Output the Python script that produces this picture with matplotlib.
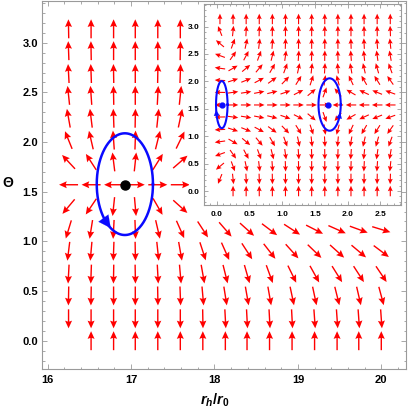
import numpy as np
import matplotlib
matplotlib.use("Agg")
import matplotlib.pyplot as plt
from matplotlib.patches import Rectangle
from matplotlib.ticker import MultipleLocator, FormatStrFormatter

plt.rcParams['font.family'] = ['Liberation Sans', 'DejaVu Sans']
plt.rcParams['mathtext.fontset'] = 'custom'
plt.rcParams['mathtext.it'] = 'Liberation Sans:bold:italic'
plt.rcParams['mathtext.rm'] = 'Liberation Sans:bold'

DPI = 100
nan = np.nan

# ---- main panel data ----
r_main = [16.25, 16.52, 16.79, 17.05, 17.32, 17.59, 17.86, 18.13,
          18.39, 18.66, 18.93, 19.20, 19.47, 19.73, 20.00]
theta = [0.00, 0.22, 0.45, 0.67, 0.90, 1.12, 1.35, 1.57,
         1.80, 2.02, 2.24, 2.47, 2.69, 2.92, 3.14]

# arrow directions in degrees, one row per theta (theta = 0 first)
ang_main = [
    [nan, 90, 90, 90, 90, 90, 90, 90, 90, 90, 90, 90, 90, 90, 90],
    [-90, -90, -90, -90, -90, -90, -89, -87, -87, -87, -87, -86, -86, -86, -86],
    [-91, -91, -90, -90, -89, -88, -85, -81, -80, -80, -78, -78, -76, -77, -75],
    [-93, -92, -91, -89, -87, -85, -80, -76, -74, -70, -64, -61, -58, -57, -56],
    [-97, -95, -92, -89, -84, -80, -72, -66, -57, -52, -48, -44, -42, -40, -37],
    [-107, -99, -93, -88, -77, -66, -57, -49, -42, -37, -33, -27, -24, -20, -17],
    [-130, -124, -96, -85, -60, -42, -32, -25, -20, -16, -13, -11, -9, -8, -7],
    [180, 180, 180, 0, 0, 0, 0, 0, 0, 0, 0, 0, 0, 0, 0],
    [133, 123, 97, 84, 58, 41, 32, 25, 20, 16, 13, 11, 9, 8, 7],
    [112, 103, 94, 88, 76, 64, 57, 49, 42, 37, 33, 27, 24, 20, 17],
    [100, 97, 92, 89, 84, 78, 72, 66, 57, 52, 48, 44, 42, 40, 37],
    [96, 94, 91, 90, 87, 84, 80, 76, 74, 70, 64, 61, 58, 57, 56],
    [93, 92, 91, 90, 89, 88, 85, 81, 80, 80, 78, 78, 76, 77, 75],
    [92, 91, 90, 90, 90, 89, 89, 87, 87, 87, 87, 86, 86, 86, 86],
    [91, 90, 90, 90, 90, 90, 90, 90, 90, 90, 90, 90, 90, 90, 90],
]

zero_main = (16.925, 1.5708)
# closed contour around the zero point: centre x, centre y, half width, half height
loop_main = (16.925, 1.576, 0.337, 0.512)
loop_main_arrow = (233, 1)   # position on loop (deg), direction (+1 ccw / -1 cw)

# ---- inset data ----
r_inset = [0.05, 0.25, 0.45, 0.65, 0.85, 1.05, 1.25, 1.45,
           1.65, 1.85, 2.05, 2.25, 2.45, 2.65]

ang_inset = [
    [nan, 90, 90, 90, 90, 90, 90, 90, 90, 90, 90, 90, 90, 90],
    [-112, -84, -87, -88, -89, -90, -90, -90, -90, -90, -90, -91, -91, -92],
    [-140, -70, -78, -83, -86, -88, -89, -90, -90, -91, -92, -93, -94, -96],
    [-160, -55, -62, -70, -76, -82, -86, -88, -89, -92, -94, -96, -98, -100],
    [-172, -30, -40, -50, -60, -70, -78, -84, -87, -95, -100, -103, -106, -110],
    [-177, -18, -22, -28, -36, -46, -58, -72, -82, -105, -115, -120, -122, -125],
    [-179, -8, -9, -11, -14, -19, -27, -40, -70, -130, -150, -155, -158, -160],
    [180, 0, 0, 0, 0, 0, 0, 0, 0, 180, 180, 180, 180, 180],
    [179, 8, 9, 11, 14, 19, 27, 40, 70, 130, 150, 155, 158, 160],
    [177, 18, 22, 28, 36, 46, 58, 72, 82, 105, 115, 120, 122, 125],
    [172, 30, 40, 50, 60, 70, 78, 84, 87, 95, 100, 103, 106, 110],
    [160, 55, 62, 70, 76, 82, 86, 88, 89, 92, 94, 96, 98, 100],
    [140, 70, 78, 83, 86, 88, 89, 90, 90, 91, 92, 93, 94, 96],
    [112, 84, 87, 88, 89, 90, 90, 90, 90, 90, 90, 91, 91, 92],
    [90, 90, 90, 90, 90, 90, 90, 90, 90, 90, 90, 90, 90, 90],
]

zeros_inset_r = [0.076, 1.706]
zeros_inset_theta = [1.5708, 1.5708]
loops_inset = [(0.078, 1.576, 0.088, 0.43), (1.724, 1.578, 0.17, 0.478)]
loops_inset_arrow = [(200, -1), (335, 1)]

FRAME = '#9a9a9a'
BLUE = '#0a0aff'


def draw_field(ax, xs, ys, ang, length_px, width_px, head):
    X, Y = np.meshgrid(xs, ys)
    a = np.radians(np.array(ang, dtype=float))
    ok = ~np.isnan(a)
    ax.quiver(X[ok], Y[ok], np.cos(a[ok]), np.sin(a[ok]),
              angles='uv', pivot='middle', units='inches', scale_units='inches',
              scale=DPI / length_px, width=width_px / DPI,
              headwidth=head[0], headlength=head[1], headaxislength=head[2],
              color='red', zorder=1)


def draw_loop(ax, loop, arrow, lw, head):
    xc, yc, a, b = loop
    t = np.linspace(0, 2 * np.pi, 300)
    ax.plot(xc + a * np.cos(t), yc + b * np.sin(t), color=BLUE, lw=lw, zorder=3)
    t0 = np.radians(arrow[0])
    dt = 0.12 * arrow[1]
    p0 = (xc + a * np.cos(t0 - dt), yc + b * np.sin(t0 - dt))
    p1 = (xc + a * np.cos(t0 + dt), yc + b * np.sin(t0 + dt))
    ax.annotate('', xy=p1, xytext=p0,
                arrowprops=dict(arrowstyle='-|>', color=BLUE, lw=0.1,
                                mutation_scale=head, shrinkA=0, shrinkB=0),
                zorder=4)


def style_frame(ax, fs, major, minor, xmaj, xmin, ymaj, ymin, pad):
    for s in ax.spines.values():
        s.set_color(FRAME)
        s.set_linewidth(0.8)
    ax.xaxis.set_major_locator(MultipleLocator(xmaj))
    ax.xaxis.set_minor_locator(MultipleLocator(xmin))
    ax.yaxis.set_major_locator(MultipleLocator(ymaj))
    ax.yaxis.set_minor_locator(MultipleLocator(ymin))
    ax.tick_params(which='both', direction='in', top=True, right=True,
                   color=FRAME, width=0.6, labelsize=fs)
    ax.tick_params(which='major', length=major)
    ax.tick_params(which='minor', length=minor)
    ax.tick_params(axis='x', pad=pad[0])
    ax.tick_params(axis='y', pad=pad[1])
    for lab in ax.get_xticklabels() + ax.get_yticklabels():
        lab.set_fontweight('bold')


fig = plt.figure(figsize=(4.09, 4.09), dpi=DPI)

# main panel
ax = fig.add_axes([0.1034, 0.0978, 0.8892, 0.9005])
ax.set_axisbelow(False)
draw_field(ax, r_main, theta, ang_main, 19, 1.4, (5, 5.5, 4.8))
draw_loop(ax, loop_main, loop_main_arrow, 1.8, 22)
ax.plot(*zero_main, 'o', color='black', ms=6.5, zorder=5)
ax.set_xlim(15.935, 20.296)
ax.set_ylim(-0.285, 3.423)
ax.xaxis.set_major_formatter(FormatStrFormatter('%d'))
ax.yaxis.set_major_formatter(FormatStrFormatter('%.1f'))
style_frame(ax, 8, 3.5, 1.8, 1, 0.2, 0.5, 0.1, (4, 3))
ax.set_xlabel(r'$r_h/r_0$', fontsize=10.5, va='center')
ax.xaxis.set_label_coords(0.474, -0.084)
ax.set_ylabel('Θ', fontsize=10, fontweight='bold', rotation=0, va='center', ha='center')
ax.yaxis.set_label_coords(-0.094, 0.505)

# white box behind the inset and its labels
ax.add_patch(Rectangle((0.462, 0.4645), 0.538, 0.5355, transform=fig.transFigure,
                       facecolor='white', edgecolor='none', zorder=2, clip_on=False))

# inset panel
axi = fig.add_axes([0.4995, 0.5, 0.481, 0.4902])
axi.set_facecolor('white')
draw_field(axi, r_inset, theta, ang_inset, 10.5, 1.1, (4.5, 5, 4.3))
for loop, arrow in zip(loops_inset, loops_inset_arrow):
    draw_loop(axi, loop, arrow, 1.5, 10)
axi.plot(zeros_inset_r, zeros_inset_theta, 'o', color=BLUE, ms=3.5, ls='none', zorder=5)
axi.set_xlim(-0.189, 2.814)
axi.set_ylim(-0.246, 3.412)
axi.xaxis.set_major_formatter(FormatStrFormatter('%.1f'))
axi.yaxis.set_major_formatter(FormatStrFormatter('%.1f'))
style_frame(axi, 6, 3, 1.5, 0.5, 0.1, 0.5, 0.1, (4.5, 3.5))

fig.savefig('out.png', dpi=DPI)
